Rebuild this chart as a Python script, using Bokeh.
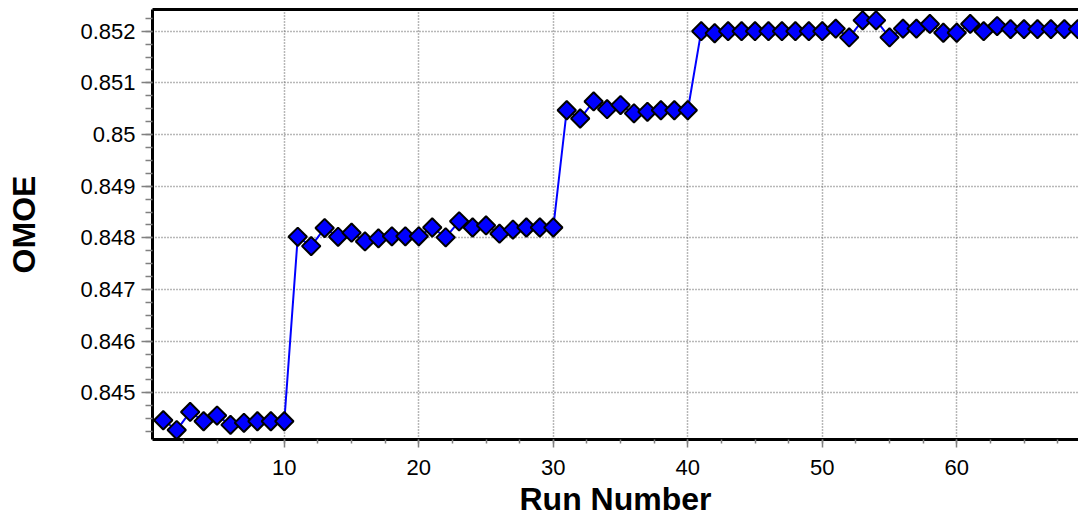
import numpy as np
from bokeh.plotting import figure
from bokeh.models import (LinearAxis, SingleIntervalTicker, FixedTicker, Range1d,
                          CustomJSTickFormatter, Grid)
from bokeh.embed import file_html
from bokeh.resources import INLINE

run_number = list(range(1, 70))
omoe = [
    0.84447, 0.84428, 0.84463, 0.84445, 0.84456, 0.84438, 0.84442, 0.84445, 0.84445, 0.84445,
    0.84802, 0.84784, 0.84819, 0.84802, 0.84810, 0.84793, 0.84799, 0.84803, 0.84803, 0.84803,
    0.84820, 0.84801, 0.84832, 0.84820, 0.84824, 0.84808, 0.84816, 0.84820, 0.84820, 0.84820,
    0.85047, 0.85031, 0.85064, 0.85049, 0.85057, 0.85041, 0.85044, 0.85047, 0.85047, 0.85047,
    0.85200, 0.85196, 0.85200, 0.85200, 0.85200, 0.85200, 0.85200, 0.85200, 0.85200, 0.85200,
    0.85205, 0.85188, 0.85221, 0.85221, 0.85188, 0.85205, 0.85205, 0.85214, 0.85197, 0.85197,
    0.85214, 0.85200, 0.85210, 0.85204, 0.85204, 0.85204, 0.85204, 0.85204, 0.85204,
]
x_label = "Run Number"
y_label = "OMOE"

FONT = "Liberation Sans"

p = figure(width=1078, height=520, output_backend="svg", toolbar_location=None,
           x_range=Range1d(0.2, 69.05), y_range=Range1d(0.844097, 0.85242),
           min_border_left=152, min_border_right=0, min_border_top=9, min_border_bottom=81,
           x_axis_type=None, y_axis_type=None)
p.outline_line_color = None
p.background_fill_color = "white"
p.border_fill_color = "white"

xaxis = LinearAxis(ticker=SingleIntervalTicker(interval=10, num_minor_ticks=4))
yaxis = LinearAxis(ticker=SingleIntervalTicker(interval=0.001, num_minor_ticks=4),
                   formatter=CustomJSTickFormatter(code="return parseFloat(tick.toFixed(4)).toString();"))
topaxis = LinearAxis(ticker=FixedTicker(ticks=[]), major_label_text_font_size="0px",
                     major_tick_line_color=None, minor_tick_line_color=None,
                     major_tick_out=0, minor_tick_out=0, major_tick_in=0, minor_tick_in=0,
                     major_label_standoff=0, axis_line_color="black", axis_line_width=3)
p.add_layout(xaxis, "below")
p.add_layout(yaxis, "left")
p.add_layout(topaxis, "above")

for ax in (xaxis, yaxis):
    ax.axis_line_color = "black"
    ax.axis_line_width = 3
    ax.major_tick_line_color = "#808080"
    ax.minor_tick_line_color = "#808080"
    ax.major_tick_line_width = 1.5
    ax.minor_tick_line_width = 1.5
    ax.major_tick_in = 0
    ax.minor_tick_in = 0
    ax.major_label_text_font = FONT
    ax.major_label_text_font_size = "22px"
    ax.major_label_text_color = "black"
    ax.axis_label_text_font = FONT
    ax.axis_label_text_font_style = "bold"
    ax.axis_label_text_color = "black"

xaxis.major_tick_out = 8
xaxis.minor_tick_out = 4
xaxis.major_label_standoff = 12
xaxis.axis_label = x_label
xaxis.axis_label_text_font_size = "32px"
xaxis.axis_label_standoff = 3

yaxis.major_tick_out = 11
yaxis.minor_tick_out = 7
yaxis.major_label_standoff = 6
yaxis.axis_label = y_label
yaxis.axis_label_text_font_size = "32px"
yaxis.axis_label_standoff = 35

gx = Grid(dimension=0, ticker=xaxis.ticker, grid_line_color="#707070",
          grid_line_dash="1 2", grid_line_width=1.5)
gy = Grid(dimension=1, ticker=yaxis.ticker, grid_line_color="#707070",
          grid_line_dash="1 2", grid_line_width=1.5)
p.add_layout(gx)
p.add_layout(gy)

p.line(run_number, omoe, line_color="#0000ff", line_width=2)
p.scatter(run_number, omoe, marker="square", size=13, angle=np.pi / 4,
          fill_color="#0000ff", line_color="black", line_width=2)

open("out.html", "w").write(file_html(p, INLINE))
